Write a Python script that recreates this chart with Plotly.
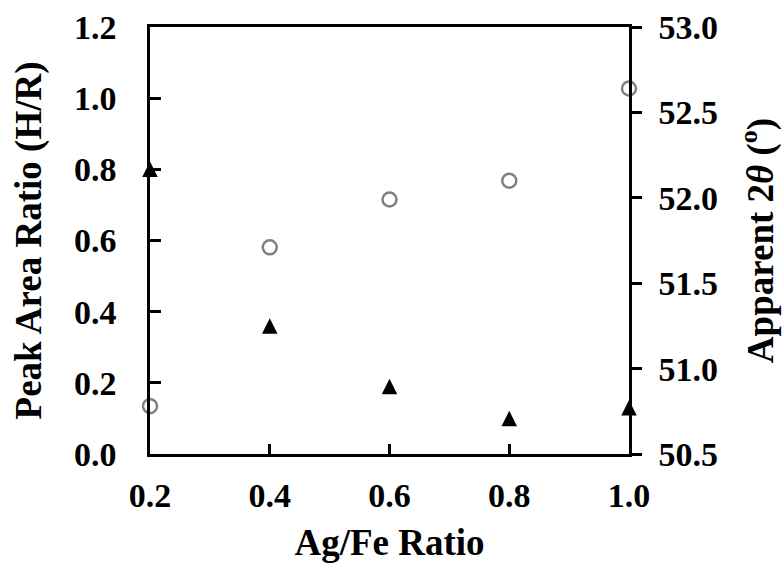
import plotly.graph_objects as go

# Ag/Fe molar ratio of each sample
ag_fe = [0.2, 0.4, 0.6, 0.8, 1.0]
# Peak area ratio H/R (left axis, filled triangles)
peak_area_ratio = [0.80, 0.36, 0.19, 0.10, 0.13]
# Apparent 2-theta position in degrees (right axis, open circles)
apparent_2theta = [50.78, 51.71, 51.99, 52.10, 52.64]

x_ticks = [0.2, 0.4, 0.6, 0.8, 1.0]
left_ticks = [0.0, 0.2, 0.4, 0.6, 0.8, 1.0, 1.2]
right_ticks = [50.5, 51.0, 51.5, 52.0, 52.5, 53.0]

FONT = "Liberation Serif"
TICK_FONT = dict(family=FONT, size=34, color="black")
TITLE_FONT = dict(family=FONT, size=37, color="black")


def bold(s):
    return f"<b>{s}</b>"


fig = go.Figure()

fig.add_trace(go.Scatter(
    x=ag_fe, y=peak_area_ratio, mode="markers", yaxis="y",
    cliponaxis=False, showlegend=False,
    marker=dict(symbol="arrow-down", angle=180, size=15.5, standoff=7.75,
                color="black", line=dict(width=0)),
))
fig.add_trace(go.Scatter(
    x=ag_fe, y=apparent_2theta, mode="markers", yaxis="y2",
    cliponaxis=False, showlegend=False,
    marker=dict(symbol="circle-open", size=14, color="#808080",
                line=dict(width=2.5, color="#808080")),
))

fig.update_layout(
    width=782, height=563,
    margin=dict(l=150, r=153, t=27, b=109, autoexpand=False),
    paper_bgcolor="white", plot_bgcolor="white",
    xaxis=dict(
        range=[0.2, 1.0], tickvals=x_ticks, ticktext=[bold(f"{v:.1f}") for v in x_ticks],
        showgrid=False, zeroline=False,
        showline=True, linecolor="black", linewidth=2.5, mirror=True,
        ticks="inside", ticklen=10, tickwidth=2.5, tickcolor="black",
        ticklabelstandoff=9, tickfont=TICK_FONT,
        title=dict(text=bold("Ag/Fe Ratio"), font=TITLE_FONT, standoff=21),
    ),
    yaxis=dict(
        range=[0.0, 1.2], tickvals=left_ticks, ticktext=[bold(f"{v:.1f}") for v in left_ticks],
        showgrid=False, zeroline=False,
        showline=True, linecolor="black", linewidth=2.5,
        ticks="inside", ticklen=11, tickwidth=2.5, tickcolor="black",
        ticklabelstandoff=24, tickfont=TICK_FONT,
        title=dict(text=bold("Peak Area Ratio (H/R)"), font=TITLE_FONT, standoff=22),
    ),
    yaxis2=dict(
        range=[50.5, 53.0], tickvals=right_ticks, ticktext=[bold(f"{v:.1f}") for v in right_ticks],
        overlaying="y", side="right",
        showgrid=False, zeroline=False,
        showline=True, linecolor="black", linewidth=2.5,
        ticks="outside", ticklen=10, tickwidth=2.5, tickcolor="black",
        ticklabelstandoff=10, tickfont=TICK_FONT,
        title=dict(text=bold("Apparent 2<i>θ</i> (<sup>o</sup>)"), font=TITLE_FONT, standoff=32),
    ),
)

fig.write_html("out.html")
